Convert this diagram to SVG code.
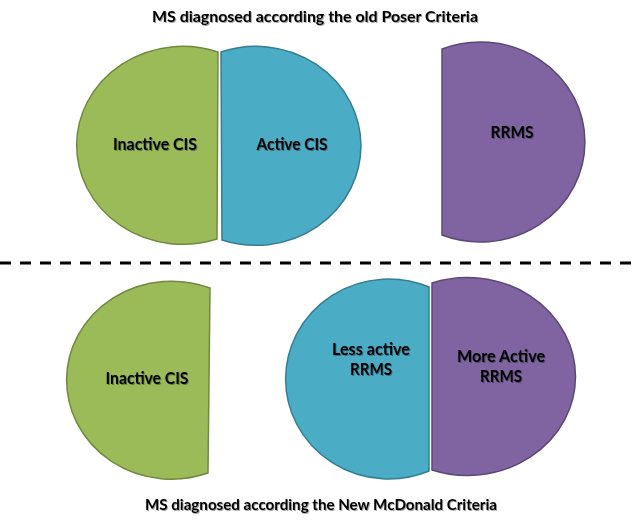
<svg xmlns="http://www.w3.org/2000/svg" width="640" height="528" viewBox="0 0 640 528">
<defs>
<filter id="ts" x="-10%" y="-30%" width="120%" height="160%">
<feDropShadow dx="1" dy="1" stdDeviation="0.6" flood-color="#000" flood-opacity="0.35"/>
</filter>
</defs>
<style>
.green{fill:#9BBB59;stroke:#71893F;stroke-width:1.5}
.blue{fill:#4BACC6;stroke:#357D91;stroke-width:1.5}
.purple{fill:#8064A2;stroke:#5C4776;stroke-width:1.5}
text{font-family:Lato,"Liberation Sans",sans-serif;font-weight:700;fill:#000;text-anchor:middle;filter:url(#ts)}
.lbl{font-size:17.5px}
.ttl{font-size:15.5px}
</style>
<rect width="640" height="528" fill="#fff"/>
<g id="title-top"><text class="ttl" x="315" y="22" textLength="326" lengthAdjust="spacingAndGlyphs">MS diagnosed according the old Poser Criteria</text></g>
<g id="inactive-cis-top"><path class="green" d="M218,52 A106,99 0 1 0 217,239 Z"/><text class="lbl" x="155" y="150" textLength="84" lengthAdjust="spacingAndGlyphs">Inactive CIS</text></g>
<g id="active-cis-top"><path class="blue" d="M221,52 A105,99.5 0 1 1 222,240 Z"/><text class="lbl" x="292" y="150" textLength="71" lengthAdjust="spacingAndGlyphs">Active CIS</text></g>
<g id="rrms-top"><path class="purple" d="M442,49 A104.5,100 0 1 1 442,235 Z"/><text class="lbl" x="512" y="138" textLength="43" lengthAdjust="spacingAndGlyphs">RRMS</text></g>
<g id="connectors"><line x1="0" y1="263" x2="640" y2="263" stroke="#000" stroke-width="3" stroke-dasharray="11 9"/></g>
<g id="inactive-cis-bottom"><path class="green" d="M210,288 A105,99 0 1 0 208,473 Z"/><text class="lbl" x="147" y="384" textLength="83" lengthAdjust="spacingAndGlyphs">Inactive CIS</text></g>
<g id="less-active-rrms"><path class="blue" d="M429,287 A103,100 0 1 0 429,471 Z"/><text class="lbl" x="371" y="355" textLength="78" lengthAdjust="spacingAndGlyphs">Less active</text><text class="lbl" x="371" y="375" textLength="42" lengthAdjust="spacingAndGlyphs">RRMS</text></g>
<g id="more-active-rrms"><path class="purple" d="M432,283 A108,99 0 1 1 432,470 Z"/><text class="lbl" x="501" y="362" textLength="88" lengthAdjust="spacingAndGlyphs">More Active</text><text class="lbl" x="501" y="382" textLength="42" lengthAdjust="spacingAndGlyphs">RRMS</text></g>
<g id="title-bottom"><text class="ttl" x="321" y="510" textLength="352" lengthAdjust="spacingAndGlyphs">MS diagnosed according the New McDonald Criteria</text></g>
</svg>
